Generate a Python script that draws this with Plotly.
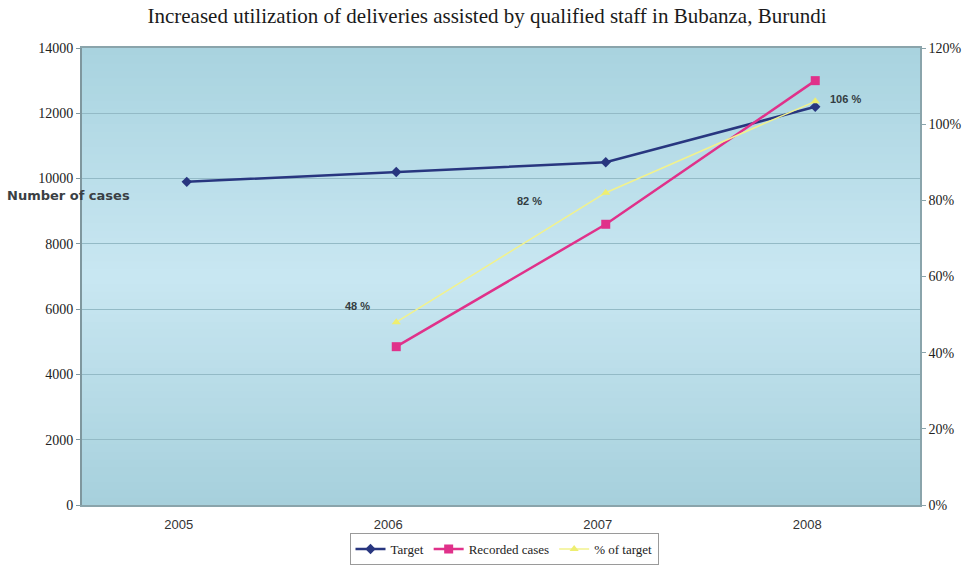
import plotly.graph_objects as go

# Chart data
years = ["2005", "2006", "2007", "2008"]
target = [9900, 10200, 10500, 12200]
recorded = [None, 4850, 8600, 13000]
pct_of_target = [None, 48, 82, 106]
pct_labels = ["", "48 %", "82 %", "106 %"]

SERIF = "Liberation Serif, DejaVu Serif, serif"
SANS = "Liberation Sans, Arial, sans-serif"

L, R, T, B = 82, 52, 48, 61
W, H = 972, 566
pw, ph = W - L - R, H - T - B

fig = go.Figure()

fig.add_trace(go.Scatter(
    x=years, y=target, name="Target", mode="lines+markers",
    line=dict(color="#28367f", width=2.5),
    marker=dict(symbol="diamond", size=8, color="#28367f"),
))
fig.add_trace(go.Scatter(
    x=years, y=recorded, name="Recorded cases", mode="lines+markers",
    line=dict(color="#e0318a", width=2.5),
    marker=dict(symbol="square", size=9, color="#e0318a"),
))
fig.add_trace(go.Scatter(
    x=years, y=pct_of_target, name="% of target", mode="lines+markers",
    yaxis="y2",
    line=dict(color="#f2f28c", width=1.5),
    marker=dict(symbol="triangle-up", size=8, color="#eeee70"),
))

# Vertical gradient fill for the plotting area
def mix(c1, c2, t):
    return "#%02x%02x%02x" % tuple(int(round(a + (b - a) * t)) for a, b in zip(c1, c2))

top_c, mid_c, bot_c = (0xa8, 0xd3, 0xdf), (0xc9, 0xe7, 0xf2), (0xa6, 0xd0, 0xdc)
bands = 60
shapes = []
for i in range(bands):
    t = (i + 0.5) / bands  # 0 at bottom, 1 at top
    if t < 0.5:
        col = mix(bot_c, mid_c, t / 0.5)
    else:
        col = mix(mid_c, top_c, (t - 0.5) / 0.5)
    shapes.append(dict(
        type="rect", xref="paper", yref="paper",
        x0=0, x1=1, y0=i / bands, y1=(i + 1) / bands + 0.002,
        fillcolor=col, line=dict(width=0), layer="below",
    ))

# Percentage labels beside the "% of target" points (x given as category index)
offsets = {1: (-39, 16), 2: (-76, -8), 3: (30, 2)}
annotations = []
for i, lbl in enumerate(pct_labels):
    if not lbl:
        continue
    dx, dy = offsets[i]
    annotations.append(dict(
        x=i, y=pct_of_target[i], xref="x", yref="y2",
        text=f"<b>{lbl}</b>", showarrow=False, xshift=dx, yshift=dy,
        font=dict(family=SANS, size=11, color="#333d42"),
    ))

# Left-axis caption
annotations.append(dict(
    x=(5 - L) / pw, y=(H - B - 195) / ph, xref="paper", yref="paper",
    text="<b>Number of cases</b>",
    showarrow=False, xanchor="left", yanchor="middle",
    font=dict(family="DejaVu Sans, sans-serif", size=13, color="#3a3f44"),
))

fig.update_layout(
    width=W, height=H,
    margin=dict(l=L, r=R, t=T, b=B, autoexpand=False),
    paper_bgcolor="white",
    plot_bgcolor="#bfe0ec",
    title=dict(
        text="Increased utilization of deliveries assisted by qualified staff in Bubanza, Burundi",
        x=487 / W, xanchor="center", y=1 - 16 / H, yanchor="middle",
        font=dict(family=SERIF, size=21, color="#1a1a1a"),
    ),
    font=dict(family=SERIF, size=14, color="#222222"),
    xaxis=dict(
        type="category", range=[-0.5, 3.5], showgrid=False,
        showline=True, linecolor="#8aa4ab", linewidth=1.5, mirror=True,
        ticks="", ticklabelstandoff=7, ticklabelshift=-8,
        tickfont=dict(family=SANS, size=13, color="#333333"),
    ),
    yaxis=dict(
        range=[0, 14000], dtick=2000, tickformat="d",
        showgrid=True, gridcolor="#93bac6", gridwidth=1,
        showline=True, linecolor="#7f979e", linewidth=2,
        ticks="outside", ticklen=4, tickcolor="#7f979e",
        tickfont=dict(family=SERIF, size=14, color="#222222"), zeroline=False,
    ),
    yaxis2=dict(
        range=[0, 120], dtick=20, ticksuffix="%", overlaying="y", side="right",
        showgrid=False, showline=True, linecolor="#8aa4ab", linewidth=1.5,
        ticks="outside", ticklen=4, tickcolor="#8aa4ab",
        tickfont=dict(family=SERIF, size=14, color="#222222"), zeroline=False,
    ),
    legend=dict(
        orientation="h", x=(504 - L) / pw, xanchor="center",
        y=(H - B - 565) / ph, yanchor="bottom",
        bordercolor="#9a9a9a", borderwidth=1, bgcolor="white",
        font=dict(family=SERIF, size=13, color="#222222"),
        itemwidth=30, tracegroupgap=0,
    ),
    shapes=shapes,
    annotations=annotations,
    showlegend=True,
)

fig.write_html("out.html")
